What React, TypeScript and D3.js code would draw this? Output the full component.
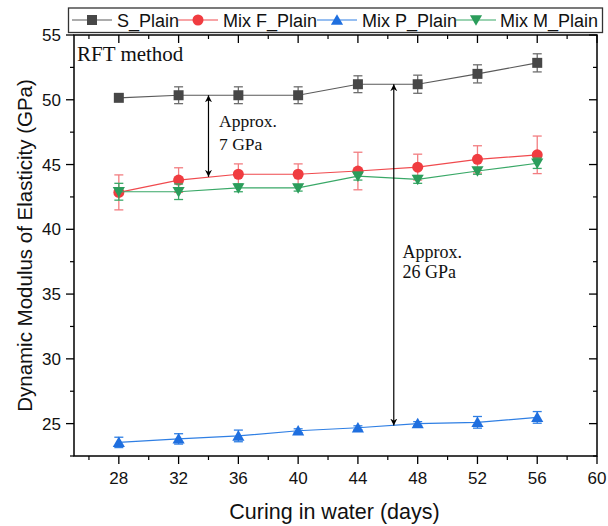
import React from "react";
import * as d3 from "d3";

// Curing age (days)
const days = [28, 32, 36, 40, 44, 48, 52, 56];

// Dynamic modulus of elasticity (GPa) and standard deviations
const sPlain = [50.15, 50.35, 50.35, 50.35, 51.2, 51.2, 52.0, 52.85];
const sPlainErr = [0, 0.65, 0.65, 0.65, 0.65, 0.7, 0.7, 0.7];
const mixF = [42.85, 43.8, 44.25, 44.25, 44.5, 44.8, 45.4, 45.75];
const mixFErr = [1.35, 0.95, 0.8, 0.8, 1.45, 1.0, 1.05, 1.45];
const mixP = [23.55, 23.82, 24.05, 24.45, 24.68, 25.0, 25.1, 25.48];
const mixPErr = [0.4, 0.4, 0.45, 0.15, 0.15, 0.15, 0.45, 0.45];
const mixM = [42.9, 42.9, 43.2, 43.2, 44.1, 43.85, 44.5, 45.1];
const mixMErr = [0.65, 0.6, 0.3, 0.25, 0.3, 0.3, 0.25, 0.4];

const xTicks = [28, 32, 36, 40, 44, 48, 52, 56, 60];
const yTicks = [25, 30, 35, 40, 45, 50, 55];

const W = 608;
const H = 526;
const left = 74;
const right = 597;
const top = 35;
const bottom = 456;

const x = d3.scaleLinear().domain([25, 60]).range([left, right]);
const y = d3.scaleLinear().domain([22.5, 55]).range([bottom, top]);

const sans = "'Liberation Sans', Arial, sans-serif";
const serif = "'Liberation Serif', 'Times New Roman', serif";

type Series = {
  name: string;
  values: number[];
  errs: number[];
  marker: "square" | "circle" | "up" | "down";
  fill: string;
  line: string;
  err: string;
};

const series: Series[] = [
  { name: "S_Plain", values: sPlain, errs: sPlainErr, marker: "square", fill: "#474747", line: "#5a5a5a", err: "#6e6e6e" },
  { name: "Mix F_Plain", values: mixF, errs: mixFErr, marker: "circle", fill: "#f03c40", line: "#f04a4e", err: "#f27d80" },
  { name: "Mix P_Plain", values: mixP, errs: mixPErr, marker: "up", fill: "#1f6fdf", line: "#2f7fe4", err: "#2f7fe4" },
  { name: "Mix M_Plain", values: mixM, errs: mixMErr, marker: "down", fill: "#2b9d5b", line: "#39a867", err: "#39a867" },
];

const symbolOf = {
  square: d3.symbol().type(d3.symbolSquare).size(100),
  circle: d3.symbol().type(d3.symbolCircle).size(95),
  up: d3.symbol().type(d3.symbolTriangle).size(64),
  down: d3.symbol().type(d3.symbolTriangle).size(64),
};

function Marker({ s, cx, cy }: { s: Series; cx: number; cy: number }) {
  const rot = s.marker === "down" ? 180 : 0;
  const dy = s.marker === "up" ? 1.2 : s.marker === "down" ? -1.2 : 0;
  return (
    <path
      d={symbolOf[s.marker]() as string}
      transform={`translate(${cx},${cy + dy}) rotate(${rot})`}
      fill={s.fill}
    />
  );
}

const lineGen = d3
  .line<number>()
  .x((_, i) => x(days[i]))
  .y((v) => y(v));

// Annotation arrows (data coordinates)
const arrows = [
  { at: 34, from: 50.35, to: 44.05 },
  { at: 46.4, from: 51.2, to: 24.85 },
];

export default function App() {
  const xMinor = d3.range(26, 61, 2).filter((v) => v % 4 !== 0);
  const yMinor = d3.range(22.5, 55.01, 2.5).filter((v) => v % 5 !== 0);

  const legendItems = [
    { lx: 92, tx: 117 },
    { lx: 198, tx: 223 },
    { lx: 337, tx: 362 },
    { lx: 476, tx: 500 },
  ];

  return (
    <svg
      width={W}
      height={H}
      style={{ position: "absolute", left: 0, top: 0, background: "#fff" }}
    >
      <defs>
        <marker id="ah" viewBox="0 0 10 10" refX="10" refY="5" markerWidth="7" markerHeight="14" orient="auto-start-reverse" markerUnits="userSpaceOnUse">
          <path d="M0,0 L10,5 L0,10 L3,5 Z" fill="#000" />
        </marker>
      </defs>

      {/* frame */}
      <rect x={left} y={top} width={right - left} height={bottom - top} fill="none" stroke="#000" strokeWidth={1.5} />

      {/* x ticks: bottom outward, top inward */}
      {xTicks.map((t) => (
        <g key={"xt" + t}>
          <line x1={x(t)} x2={x(t)} y1={bottom} y2={bottom + 8} stroke="#000" strokeWidth={1.3} />
          <line x1={x(t)} x2={x(t)} y1={top} y2={top + 8} stroke="#000" strokeWidth={1.3} />
          <text x={x(t)} y={484} fontFamily={sans} fontSize={17} textAnchor="middle" fill="#111">
            {t}
          </text>
        </g>
      ))}
      {xMinor.map((t) => (
        <g key={"xm" + t}>
          <line x1={x(t)} x2={x(t)} y1={bottom} y2={bottom + 4} stroke="#000" strokeWidth={1.2} />
          <line x1={x(t)} x2={x(t)} y1={top} y2={top + 4} stroke="#000" strokeWidth={1.2} />
        </g>
      ))}

      {/* y ticks: left outward, right inward */}
      {yTicks.map((t) => (
        <g key={"yt" + t}>
          <line x1={left - 8} x2={left} y1={y(t)} y2={y(t)} stroke="#000" strokeWidth={1.3} />
          <line x1={right - 8} x2={right} y1={y(t)} y2={y(t)} stroke="#000" strokeWidth={1.3} />
          <text x={61} y={y(t) + 6} fontFamily={sans} fontSize={17} textAnchor="end" fill="#111">
            {t}
          </text>
        </g>
      ))}
      {yMinor.map((t) => (
        <g key={"ym" + t}>
          <line x1={left - 4} x2={left} y1={y(t)} y2={y(t)} stroke="#000" strokeWidth={1.2} />
          <line x1={right - 4} x2={right} y1={y(t)} y2={y(t)} stroke="#000" strokeWidth={1.2} />
        </g>
      ))}

      {/* axis titles */}
      <text x={334.5} y={519} fontFamily={sans} fontSize={21.5} textAnchor="middle" fill="#111">
        Curing in water (days)
      </text>
      <text
        transform={`translate(31.5,${(top + bottom) / 2}) rotate(-90)`}
        fontFamily={sans}
        fontSize={20.5}
        textAnchor="middle"
        fill="#111"
      >
        Dynamic Modulus of Elasticity (GPa)
      </text>

      {/* series */}
      {series.map((s) => (
        <g key={s.name}>
          <path d={lineGen(s.values) as string} fill="none" stroke={s.line} strokeWidth={1.2} />
          {s.values.map((v, i) =>
            s.errs[i] > 0 ? (
              <g key={"e" + i} stroke={s.err} strokeWidth={1.3}>
                <line x1={x(days[i])} x2={x(days[i])} y1={y(v - s.errs[i])} y2={y(v + s.errs[i])} />
                <line x1={x(days[i]) - 4.5} x2={x(days[i]) + 4.5} y1={y(v - s.errs[i])} y2={y(v - s.errs[i])} />
                <line x1={x(days[i]) - 4.5} x2={x(days[i]) + 4.5} y1={y(v + s.errs[i])} y2={y(v + s.errs[i])} />
              </g>
            ) : null
          )}
          {s.values.map((v, i) => (
            <Marker key={"m" + i} s={s} cx={x(days[i])} cy={y(v)} />
          ))}
        </g>
      ))}

      {/* annotations */}
      {arrows.map((a, i) => (
        <line
          key={"ar" + i}
          x1={x(a.at)}
          x2={x(a.at)}
          y1={y(a.from)}
          y2={y(a.to)}
          stroke="#000"
          strokeWidth={1.2}
          markerStart="url(#ah)"
          markerEnd="url(#ah)"
        />
      ))}
      <text x={77} y={61} fontFamily={serif} fontSize={21} fill="#111">RFT method</text>
      <text x={219} y={127} fontFamily={serif} fontSize={17.5} fill="#111">Approx.</text>
      <text x={219} y={150} fontFamily={serif} fontSize={17.5} fill="#111">7 GPa</text>
      <text x={402.5} y={257.5} fontFamily={serif} fontSize={18} fill="#111">Approx.</text>
      <text x={402.5} y={278} fontFamily={serif} fontSize={18} fill="#111">26 GPa</text>

      {/* legend */}
      <rect x={68.5} y={8} width={534} height={24.5} fill="#fff" stroke="#333" strokeWidth={1.3} />
      {series.map((s, i) => (
        <g key={"lg" + s.name}>
          <line x1={legendItems[i].lx - 20} x2={legendItems[i].lx + 20} y1={20} y2={20} stroke={s.line} strokeWidth={1.2} />
          <Marker s={s} cx={legendItems[i].lx} cy={20} />
          <text x={legendItems[i].tx} y={27} fontFamily={sans} fontSize={18} fill="#111">
            {s.name}
          </text>
        </g>
      ))}
    </svg>
  );
}
